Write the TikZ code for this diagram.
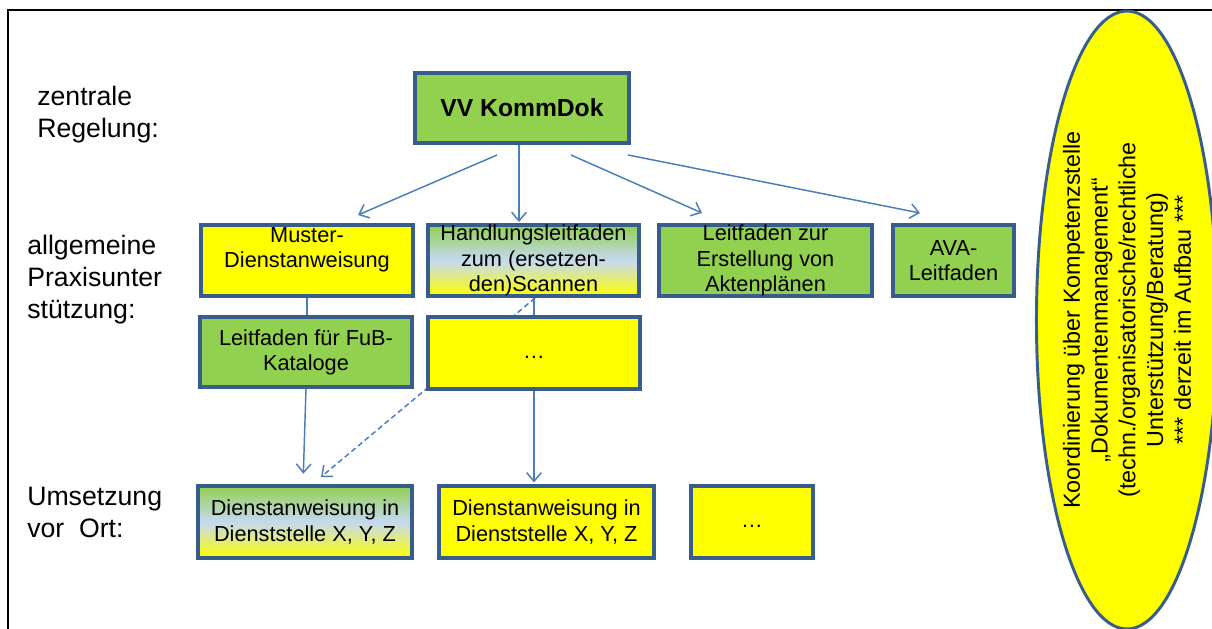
\documentclass[tikz,border=0pt]{standalone}
\usepackage{fontspec}
\setmainfont{Liberation Sans}
\usetikzlibrary{arrows.meta,shapes.geometric,calc}
\definecolor{boxgreen}{HTML}{92D050}
\definecolor{boxyellow}{HTML}{FFFF00}
\definecolor{bord}{HTML}{385D8A}
\definecolor{arrc}{HTML}{4A7EBB}
\definecolor{lblue}{HTML}{C6D9F1}
\newcommand{\bx}[7]{\node[box,#6,minimum width={(#4-#2)*0.75pt},minimum height={(#5-#3)*0.75pt}] (#1) at ({(#2+#4)/2},{(#3+#5)/2}) {#7};}
\tikzset{
  box/.style={draw=bord,line width=2.4pt,inner sep=0pt,align=center,font=\fontsize{16.3}{18.9}\selectfont},
  gbox/.style={fill=boxgreen},
  ybox/.style={fill=boxyellow},
  grad/.style={top color=boxgreen,bottom color=boxyellow,middle color=lblue},
  lab/.style={anchor=north west,align=left,inner sep=0pt,font=\fontsize{20}{24}\selectfont},
  conn/.style={draw=arrc,line width=1.1pt},
  arr/.style={conn,-{Straight Barb[length=6.5pt,width=11pt,line width=1.1pt]}},
}
\begin{document}
\begin{tikzpicture}[x=0.75pt,y=-0.75pt]
\useasboundingbox (0,0) rectangle (1212,628);
\clip (0,0) rectangle (1212,628);
\fill[white] (0,0) rectangle (1212,628);
% frame
\draw[line width=1.5pt] (8,640) -- (8,10) -- (1220,10);
% left labels
\node[lab] (l1) at (37,86) {zentrale\\Regelung:};
\node[lab] (l2) at (27,235) {allgemeine\\Praxisunter\\stützung:};
\node[lab] (l3) at (27,487) {Umsetzung\\vor~ Ort:};
% dashed connector first (behind boxes)
\coordinate (ds) at (535,298);
\coordinate (de) at (321,477);
\draw[arr,dashed,dash pattern=on 4pt off 2.5pt] (ds) -- (de);
% top box
\bx{vv}{415}{73}{629}{143}{gbox,font=\fontsize{18.5}{22}\selectfont\bfseries}{VV KommDok}
% row 2
\bx{mu}{201}{225}{413}{296}{ybox}{Muster-\\Dienstanweisung\\\mbox{}}
\bx{hl}{428}{225}{639}{296}{grad}{Handlungsleitfaden\\zum (ersetzen-\\den)Scannen}
\bx{la}{659}{225}{872}{296}{gbox}{Leitfaden zur\\Erstellung von\\Aktenplänen}
\bx{ava}{893}{225}{1014}{296}{gbox}{AVA-\\Leitfaden}
% row 3
\bx{fub}{200}{317}{412}{387}{gbox}{Leitfaden für FuB-\\Kataloge}
\bx{d1}{428}{317}{640}{389}{ybox}{\strut\dots}
% row 4
\bx{da1}{198}{486}{412}{558}{grad}{Dienstanweisung in\\Dienststelle X, Y, Z}
\bx{da2}{439}{486}{654}{558}{ybox}{Dienstanweisung in\\Dienststelle X, Y, Z}
\bx{d2}{691}{486}{813}{558}{ybox}{\strut\dots}
% ellipse
\node[ellipse,draw=bord,line width=2.2pt,fill=boxyellow,inner sep=0pt,rotate=90,
  minimum width={618*0.75pt},minimum height={170*0.75pt},align=center,
  font=\fontsize{17.5}{20.8}\selectfont] (koord) at (1127,320)
  {Koordinierung über Kompetenzstelle\\„Dokumentenmanagement“\\(techn./organisatorische/rechtliche\\Unterstützung/Beratung)\\*** derzeit im Aufbau ***};
% connectors from VV
\coordinate (a1s) at (497,155); \coordinate (a1e) at (358,215);
\coordinate (a3s) at (571,155); \coordinate (a3e) at (702,213);
\coordinate (a4s) at (628,155); \coordinate (a4e) at (920,213);
\draw[arr] (a1s) -- (a1e);
\draw[arr] (vv.south -| 519,0) -- (519,222);
\draw[arr] (a3s) -- (a3e);
\draw[arr] (a4s) -- (a4e);
% vertical connections
\draw[conn] (mu.south) -- (mu.south |- fub.north);
\draw[conn] (hl.south -| d1.north) -- (d1.north);
\draw[arr,shorten >=8pt] (fub.south) -- ($(da1.north)+(-2,0)$);
\draw[arr,shorten >=1.5pt] (d1.south) -- (d1.south |- da2.north);
\end{tikzpicture}
\end{document}
